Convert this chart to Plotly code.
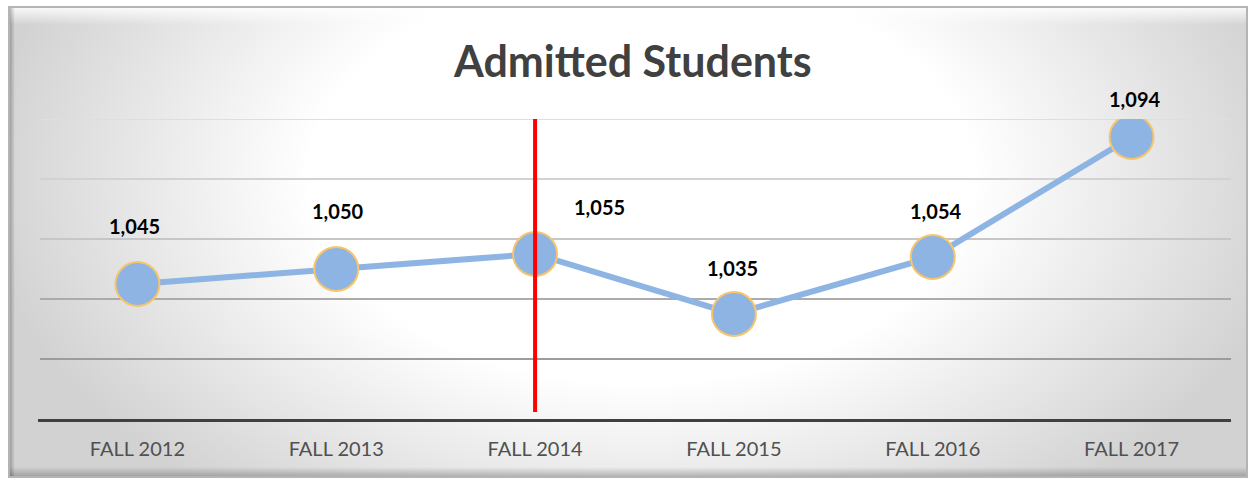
import base64
import plotly.graph_objects as go

# ---- data ----
categories = ["FALL 2012", "FALL 2013", "FALL 2014", "FALL 2015", "FALL 2016", "FALL 2017"]
admitted = [1045, 1050, 1055, 1035, 1054, 1094]
highlight_category = "FALL 2014"
title_text = "Admitted Students"
grid_values = [1020, 1040, 1060, 1080, 1100]

# style: label offsets (px) and grid line shades
label_xshift = [-3, 1, 64, -1, 3, 3]
label_yshift = [58, 58, 47, 46, 46, 38]
grid_colors = ["#9c9c9c", "#ababab", "#c6c6c6", "#d2d2d2", "#dedede"]

W, H = 1248, 479

svg = (
    "<svg xmlns='http://www.w3.org/2000/svg' width='1234' height='469' viewBox='0 0 1234 469' preserveAspectRatio='none'>"
    "<defs><radialGradient id='g' gradientUnits='userSpaceOnUse' cx='630' cy='170' r='660' "
    "gradientTransform='matrix(1 0 0 0.62 0 64.6)'>"
    "<stop offset='0' stop-color='#ffffff'/><stop offset='0.5' stop-color='#ffffff'/>"
    "<stop offset='1' stop-color='#d2d2d2'/></radialGradient>"
    "<linearGradient id='t' x1='0' y1='0' x2='0' y2='1'>"
    "<stop offset='0' stop-color='#ffffff' stop-opacity='0.9'/><stop offset='1' stop-color='#ffffff' stop-opacity='0'/></linearGradient>"
    "<linearGradient id='b' x1='0' y1='0' x2='0' y2='1'>"
    "<stop offset='0' stop-color='#000000' stop-opacity='0'/><stop offset='1' stop-color='#000000' stop-opacity='0.25'/></linearGradient>"
    "<linearGradient id='l' x1='0' y1='0' x2='1' y2='0'>"
    "<stop offset='0' stop-color='#000000' stop-opacity='0.3'/><stop offset='1' stop-color='#000000' stop-opacity='0'/></linearGradient>"
    "</defs>"
    "<rect width='1234' height='469' fill='url(#g)'/>"
    "<rect x='0' y='0' width='1234' height='18' fill='url(#t)'/>"
    "<rect x='0' y='459' width='1234' height='10' fill='url(#b)'/>"
    "<rect x='0' y='0' width='6' height='469' fill='url(#l)'/>"
    "</svg>"
)
src = "data:image/svg+xml;base64," + base64.b64encode(svg.encode()).decode()

fx0, fx1 = 9 / W, 1247 / W
fy1, fy0 = 1 - 7 / H, 1 - 477 / H

fig = go.Figure()
fig.add_trace(go.Scatter(
    x=categories, y=admitted, mode="lines+markers",
    line=dict(color="#8EB4E3", width=6),
    marker=dict(size=44, color="#8EB4E3", line=dict(color="#F7C56C", width=2)),
    hoverinfo="skip", showlegend=False,
))

annotations = []
for c, v, dx, dy in zip(categories, admitted, label_xshift, label_yshift):
    annotations.append(dict(
        x=c, y=v, xref="x", yref="y", text=f"{v:,}", showarrow=False,
        xshift=dx, yshift=dy,
        font=dict(family="Lato", size=20, color="#000000", weight="bold"),
    ))
annotations.append(dict(
    x=632 / W, y=1 - 60 / H, xref="paper", yref="paper",
    text=f"<b>{title_text}</b>", showarrow=False, xanchor="center", yanchor="middle",
    font=dict(family="Lato", size=43, color="#404040"),
))

shapes = [
    dict(type="rect", xref="paper", yref="paper", x0=fx0, x1=fx1, y0=fy0, y1=fy1,
         line=dict(color="#b4b4b4", width=2), fillcolor="rgba(0,0,0,0)", layer="below"),
]
for gv, gc in zip(grid_values, grid_colors):
    shapes.append(dict(type="line", xref="paper", yref="y", x0=40 / W, x1=1231 / W,
                       y0=gv, y1=gv, line=dict(color=gc, width=2), layer="below"))
shapes.append(dict(type="line", xref="x", yref="y", x0=highlight_category, x1=highlight_category,
                   y0=1002.3, y1=1100, line=dict(color="#FF0000", width=4), layer="above"))

fig.update_layout(
    width=W, height=H,
    margin=dict(l=0, r=0, t=0, b=0),
    paper_bgcolor="#ffffff", plot_bgcolor="rgba(0,0,0,0)",
    images=[dict(source=src, xref="paper", yref="paper", x=fx0, y=fy1,
                 sizex=fx1 - fx0, sizey=fy1 - fy0, sizing="stretch",
                 xanchor="left", yanchor="top", layer="below")],
    shapes=shapes,
    annotations=annotations,
    xaxis=dict(
        domain=[38 / W, 1231 / W], range=[-0.5, 5.5], type="category",
        showgrid=False, showline=True, linecolor="#404040", linewidth=3,
        ticks="outside", ticklen=10, tickcolor="rgba(0,0,0,0)",
        tickfont=dict(family="Lato", size=20, color="#505050"),
        zeroline=False, fixedrange=True,
    ),
    yaxis=dict(
        domain=[60 / H, 360 / H], range=[1000, 1100],
        showgrid=False, showticklabels=False, zeroline=False, showline=False, fixedrange=True,
    ),
)

fig.write_html(
    "out.html",
    config={"displayModeBar": False},
    post_script="document.body.style.margin='0';document.body.style.overflow='hidden';",
)
